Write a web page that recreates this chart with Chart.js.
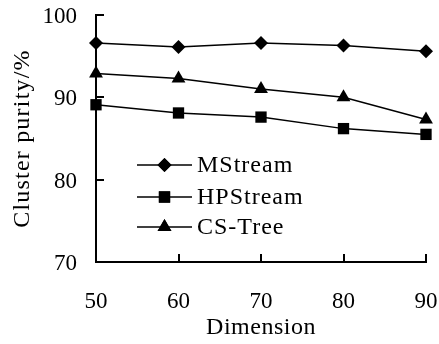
<!DOCTYPE html>
<html><head><meta charset="utf-8">
<script src="https://cdn.jsdelivr.net/npm/chart.js@4"></script>
<style>html,body{margin:0;padding:0;background:#fff}#wrap{width:439px;height:344px}</style>
</head><body><div id="wrap"><canvas id="c"></canvas></div>
<script>
const dimensions = [50, 60, 70, 80, 90];
const mstream = [96.6, 96.1, 96.6, 96.3, 95.6];
const hpstream = [89.1, 88.1, 87.6, 86.2, 85.5];
const cstree = [92.9, 92.3, 91.0, 90.0, 87.3];
const seriesNames = ['MStream', 'HPStream', 'CS-Tree'];
const yTicks = [70, 80, 90, 100];
const FONT = "'Liberation Serif', 'Times New Roman', serif";
const FS = 23;

const pts = (vals) => dimensions.map((d, i) => ({x: d, y: vals[i]}));
const base = {borderColor:'#000', backgroundColor:'#000', borderWidth:1.5, pointBorderWidth:0, clip:false, tension:0};

const spacedTitles = {
  id:'spacedTitles',
  afterUpdate(chart){
    [['x','0.5px'],['y','1.2px']].forEach(([id, sp]) => {
      const s = chart.scales[id];
      if (s._patched) return;
      const orig = s.drawTitle.bind(s);
      s.drawTitle = function(){ const c = this.ctx; c.letterSpacing = sp; orig(); c.letterSpacing = '0px'; };
      s._patched = true;
    });
  }
};

const innerTicks = {
  id:'innerTicks',
  afterDraw(chart){
    const ctx = chart.ctx, a = chart.chartArea;
    const xs = chart.scales.x, ys = chart.scales.y;
    ctx.save();
    ctx.strokeStyle = '#000'; ctx.lineWidth = 2;
    dimensions.forEach(d => { const px = Math.round(xs.getPixelForValue(d));
      ctx.beginPath(); ctx.moveTo(px, a.bottom); ctx.lineTo(px, a.bottom - 8); ctx.stroke(); });
    yTicks.forEach(v => { const py = Math.round(ys.getPixelForValue(v));
      ctx.beginPath(); ctx.moveTo(a.left, py); ctx.lineTo(a.left + 8, py); ctx.stroke(); });
    // legend
    const x0 = a.left + 41, x1 = a.left + 96, rows = [165, 197, 227];
    chart.data.datasets.forEach((ds, i) => {
      const y = rows[i];
      ctx.strokeStyle = '#000'; ctx.lineWidth = 1.5;
      ctx.beginPath(); ctx.moveTo(x0, y); ctx.lineTo(x1, y); ctx.stroke();
      ctx.fillStyle = '#000';
      Chart.helpers.drawPoint(ctx, {pointStyle: ds.pointStyle, radius: ds.pointRadius, borderWidth: 0}, (x0 + x1) / 2, y);
      ctx.fill();
      ctx.font = '24px ' + FONT; ctx.textBaseline = 'middle'; ctx.textAlign = 'left';
      ctx.letterSpacing = '1px';
      ctx.fillText(ds.label, x1 + 5, y + 1);
      ctx.letterSpacing = '0px';
    });
    ctx.restore();
  }
};

new Chart(document.getElementById('c'), {
  type: 'line',
  data: { datasets: [
    Object.assign({label: seriesNames[0], data: pts(mstream), pointStyle:'rectRot', pointRadius:7, pointHoverRadius:7}, base),
    Object.assign({label: seriesNames[1], data: pts(hpstream), pointStyle:'rect', pointRadius:8, pointHoverRadius:8}, base),
    Object.assign({label: seriesNames[2], data: pts(cstree), pointStyle:'triangle', pointRadius:8, pointHoverRadius:8}, base)
  ]},
  options: {
    responsive:true, maintainAspectRatio:false, animation:false,
    layout:{autoPadding:false, padding:{top:15, right:13, left:0, bottom:0}},
    plugins:{legend:{display:false}, tooltip:{enabled:false}},
    scales:{
      x:{type:'linear', min:50, max:90,
        afterFit(s){ s.height = 82; },
        afterBuildTicks(s){ s.ticks = dimensions.map(v => ({value:v})); },
        grid:{display:false, drawTicks:true, tickLength:26},
        border:{display:true, color:'#000', width:2},
        ticks:{color:'#000', font:{family:FONT, size:FS}, padding:0, maxRotation:0},
        title:{display:true, text:'Dimension', color:'#000', font:{family:FONT, size:24}, padding:{top:0, bottom:2}}
      },
      y:{type:'linear', min:70, max:100,
        afterFit(s){ s.width = 96; },
        afterBuildTicks(s){ s.ticks = yTicks.map(v => ({value:v})); },
        grid:{display:false, drawTicks:true, tickLength:19},
        border:{display:true, color:'#000', width:2},
        ticks:{color:'#000', font:{family:FONT, size:FS}, padding:0, labelOffset:2},
        title:{display:true, text:'Cluster purity/%', color:'#000', font:{family:FONT, size:24}, padding:{top:8, bottom:0}}
      }
    }
  },
  plugins:[spacedTitles, innerTicks]
});
</script></body></html>
